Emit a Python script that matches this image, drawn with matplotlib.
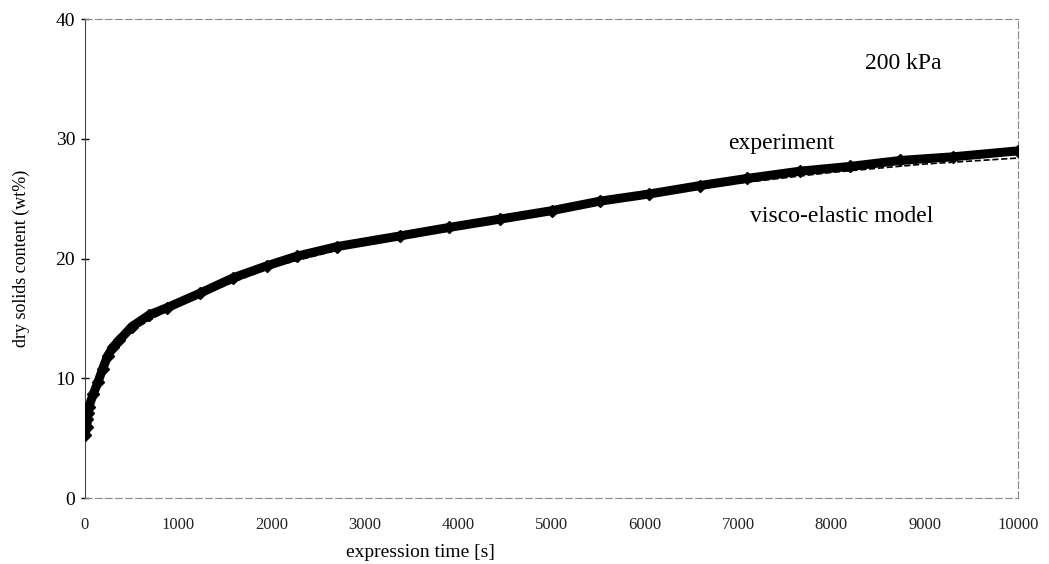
import matplotlib.pyplot as plt
import numpy as np

# experiment readings: expression time [s] vs dry solids content (wt%)
exp_time = [0, 20, 25, 35, 40, 90, 140, 190, 245, 300, 370, 500, 690, 880,
            1230, 1590, 1950, 2270, 2700, 3380, 3900, 4450, 5000, 5520,
            6050, 6590, 7100, 7660, 8200, 8740, 9300, 10000]
exp_solids = [5.3, 5.9, 6.6, 7.1, 7.6, 8.7, 9.7, 10.8, 11.9, 12.6, 13.2, 14.3,
              15.3, 15.9, 17.1, 18.4, 19.4, 20.2, 21.0, 21.9, 22.6, 23.3,
              24.0, 24.8, 25.4, 26.1, 26.7, 27.3, 27.7, 28.2, 28.5, 29.0]

# visco-elastic model curve (mostly hidden under the experiment)
model_time = [0, 100, 250, 500, 1000, 2000, 3000, 4000, 5000, 6000, 7000,
              8000, 9000, 10000]
model_solids = [5.5, 9.0, 11.8, 14.0, 16.2, 19.3, 21.3, 22.7, 23.9, 25.2,
                26.3, 27.2, 27.9, 28.4]

plt.rcParams['font.family'] = ['Liberation Serif', 'DejaVu Serif']

fig = plt.figure(figsize=(10.49, 5.64), dpi=100)
ax = fig.add_axes([0.081, 0.117, 0.8895, 0.849])

ax.plot(model_time, model_solids, color='black', lw=1.2, ls='--', zorder=2)
ax.plot(exp_time, exp_solids, color='black', lw=6.5, solid_capstyle='round',
        marker='D', markersize=6, zorder=3)

ax.set_xlim(0, 10000)
ax.set_ylim(0, 40)
ax.set_xticks(np.arange(0, 10001, 1000))
ax.set_yticks([0, 10, 20, 30, 40])
ax.tick_params(axis='x', length=0, labelsize=12, pad=14, colors='#222222')
ax.tick_params(axis='y', direction='inout', length=6, width=1,
               labelsize=14, pad=4)
for s in ax.spines.values():
    s.set_color('#888888')
    s.set_linewidth(0.8)
    s.set_linestyle((0, (6, 3)))
ax.spines['left'].set_linestyle('-')
ax.spines['left'].set_color('#444444')

ax.set_ylabel('dry solids content (wt%)', fontsize=13)
ax.yaxis.set_label_coords(-0.059, 0.5)
ax.set_xlabel('expression time [s]', fontsize=14)
ax.xaxis.set_label_coords(0.36, -0.095)

ax.text(8360, 36.3, '200 kPa', fontsize=17, va='center')
ax.text(6890, 29.6, 'experiment', fontsize=17, va='center')
ax.text(7130, 23.5, 'visco-elastic model', fontsize=17, va='center')

fig.savefig('out.png', dpi=100)
